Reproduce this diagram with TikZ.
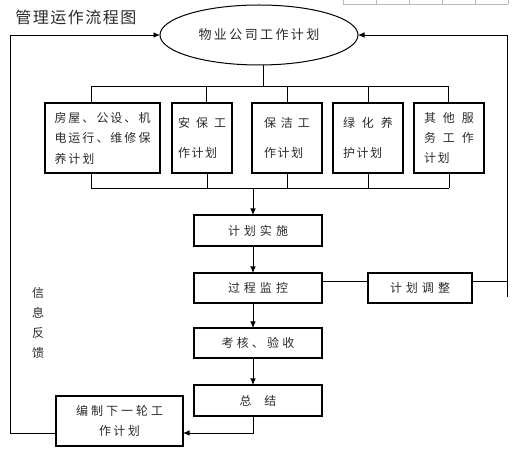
\documentclass[tikz,border=0pt]{standalone}
\usepackage{fontspec}
\setmainfont{Noto Sans CJK SC}
\usetikzlibrary{shapes.geometric,arrows.meta}
\newcommand\myspread[2]{\def\mysgap{#1}\mysfirst#2\relax}
\def\mysfirst#1{\ifx\relax#1\else#1\expandafter\mysrest\fi}
\def\mysrest#1{\ifx\relax#1\else\hspace{\mysgap}#1\expandafter\mysrest\fi}
\newcommand\fsl[2]{\fontsize{#1}{#2}\selectfont}
\definecolor{ink}{HTML}{2A2A2A}
\tikzset{
  box/.style={draw, line width=1.1pt, inner sep=0pt, outer sep=0pt, text=ink},
  ln/.style={line width=0.9pt},
  arr/.style={ln, -{Latex[length=6.5pt,width=5.5pt]}},
  txt/.style={text=ink, inner sep=0pt},
}
\begin{document}
\begin{tikzpicture}[x=1pt,y=-1pt]
\useasboundingbox (0,0) rectangle (517,454);
% table fragment at top right
\draw[gray!55, line width=0.6pt] (343,4.5) -- (508,4.5);
\foreach \x in {343,376,409,442,475,508} \draw[gray!55, line width=0.6pt] (\x,0) -- (\x,4.5);

\node[txt, font=\fsl{16}{18}] (title) at (76,17) {\myspread{1.5pt}{管理运作流程图}};

\node[ellipse, draw, line width=1pt, minimum width=198pt, minimum height=60pt,
      inner sep=0pt, outer sep=0pt, text=ink, font=\fsl{13}{15}] (plan) at (259,35)
      {\myspread{2.4pt}{物业公司工作计划}};

% five plan boxes
\node[box, minimum width=115pt, minimum height=70pt, align=left, font=\fsl{12}{20.5}] (b1) at (102.5,138)
  {\myspread{2pt}{房屋、公设、机}\\\myspread{2pt}{电运行、维修保}\\\myspread{2pt}{养计划}};
\node[box, minimum width=60pt, minimum height=70pt, align=left, font=\fsl{12}{30}] (b2) at (202,138)
  {\myspread{6pt}{安保工}\\\myspread{1.5pt}{作计划}};
\node[box, minimum width=70pt, minimum height=70pt, align=left, font=\fsl{12}{30}] (b3) at (287,138)
  {\myspread{5pt}{保洁工}\\\myspread{1.5pt}{作计划}};
\node[box, minimum width=70pt, minimum height=70pt, align=left, font=\fsl{12}{30}] (b4) at (368,138)
  {\myspread{7pt}{绿化养}\\\myspread{1.5pt}{护计划}};
\node[box, minimum width=70pt, minimum height=70pt, align=left, font=\fsl{12}{20}] (b5) at (449,138)
  {\myspread{7pt}{其他服}\\\myspread{7pt}{务工作}\\\myspread{1.5pt}{计划}};

% process boxes
\node[box, minimum width=128pt, minimum height=31pt, font=\fsl{12}{14}] (impl) at (258,230.5) {\myspread{4pt}{计划实施}};
\node[box, minimum width=128pt, minimum height=30pt, font=\fsl{12}{14}] (mon) at (258,288) {\myspread{4pt}{过程监控}};
\node[box, minimum width=104pt, minimum height=30pt, font=\fsl{12}{14}] (adj) at (420,288) {\myspread{4pt}{计划调整}};
\node[box, minimum width=128pt, minimum height=30pt, font=\fsl{12}{14}] (chk) at (258,343) {\myspread{3.2pt}{考核、验收}};
\node[box, minimum width=128pt, minimum height=31pt, font=\fsl{12}{14}] (sum) at (258,400.5) {\myspread{13pt}{总结}};
\node[box, minimum width=127pt, minimum height=50pt, align=center, font=\fsl{12}{20}] (next) at (119.5,421)
  {\myspread{3pt}{编制下一轮工}\\\myspread{2.5pt}{作计划}};

\node[txt, align=center, font=\fsl{12}{20}] (fb) at (38,323) {信\\息\\反\\馈};

% top distribution bus
\coordinate (stemT) at (263,86);
\coordinate (busTL) at (91,86);
\coordinate (busTR) at (448,86);
\draw[ln] (stemT |- plan.south) -- (stemT);
\draw[ln] (busTL) -- (busTR);
\draw[ln] (busTL) -- (busTL |- b1.north);
\draw[ln] (206,86) -- (206,103);
\draw[ln] (b3.north |- busTL) -- (b3.north);
\draw[ln] (b4.north |- busTL) -- (b4.north);
\draw[ln] (busTR) -- (busTR |- b5.north);

% bottom collection bus
\coordinate (busBL) at (91,188);
\coordinate (busBR) at (449,188);
\coordinate (stemB) at (253,188);
\draw[ln] (busBL) -- (busBR);
\draw[ln] (busBL |- b1.south) -- (busBL);
\draw[ln] (207,173) -- (207,188);
\draw[ln] (b3.south) -- (b3.south |- busBL);
\draw[ln] (b4.south) -- (b4.south |- busBL);
\draw[ln] (busBR |- b5.south) -- (busBR);

% main flow
\draw[arr] (stemB) -- (stemB |- impl.north);
\draw[arr] (stemB |- impl.south) -- (stemB |- mon.north);
\draw[arr] (stemB |- mon.south) -- (stemB |- chk.north);
\draw[arr] (stemB |- chk.south) -- (stemB |- sum.north);
\coordinate (turn) at (253,433);
\draw[arr] (stemB |- sum.south) -- (turn) -- (turn -| next.east);

% adjustment loop
\coordinate (adjL) at (322,281);
\coordinate (rightB) at (507,297);
\coordinate (rightT) at (507,35);
\draw[ln] (mon.east |- adjL) -- (adj.west |- adjL);
\draw[ln] (adj.east |- adjL) -- (rightB |- adjL);
\draw[arr] (rightB) -- (rightT) -- (plan.east);

% feedback loop
\coordinate (leftB) at (10,433);
\coordinate (leftT) at (10,35);
\draw[arr] (next.west |- leftB) -- (leftB) -- (leftT) -- (plan.west);
\end{tikzpicture}
\end{document}
